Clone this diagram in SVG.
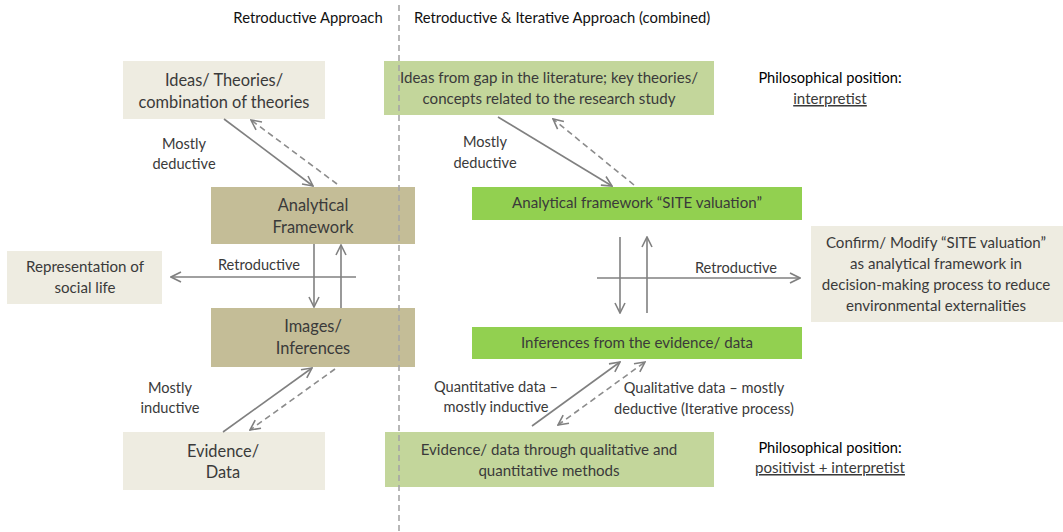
<svg xmlns="http://www.w3.org/2000/svg" width="1063" height="532" viewBox="0 0 1063 532">
  <style>
    text { font-family: Lato, "Liberation Sans", sans-serif; fill: #3a3a3a; text-anchor: middle; }
    .hdr { font-size: 14.8px; fill: #111; }
    .big { font-size: 16.4px; }
    .mid { font-size: 15.1px; }
    .lbl { font-size: 14.6px; }
    .phil { font-size: 14.6px; fill: #000; }
    .ul { text-decoration: underline; }
    .beige { fill: #EEECE1; }
    .tan { fill: #C4BD97; }
    .olive { fill: #C3D69B; }
    .lime { fill: #92D050; }
    .solid { stroke: #808080; stroke-width: 1.6; fill: none; }
    .dash { stroke: #8c8c8c; stroke-width: 1.6; fill: none; stroke-dasharray: 6 4; }
  </style>
  <defs>
    <marker id="head" viewBox="0 0 12 12" refX="11" refY="6" markerWidth="12" markerHeight="12" markerUnits="userSpaceOnUse" orient="auto-start-reverse">
      <path d="M1,1 L11,6 L1,11" fill="none" stroke="#808080" stroke-width="1.6"/>
    </marker>
  </defs>
  <rect width="1063" height="532" fill="#ffffff"/>

  <!-- headings -->
  <text class="hdr" x="308" y="23">Retroductive Approach</text>
  <text class="hdr" x="414" y="23" style="text-anchor:start">Retroductive &amp; Iterative Approach (combined)</text>

  <!-- left: retroductive approach -->
  <g id="ideas">
    <rect class="beige" x="123" y="61" width="202" height="58"/>
    <text class="big" x="224" y="86">Ideas/ Theories/</text>
    <text class="big" x="224" y="108">combination of theories</text>
  </g>
  <g id="analytical-framework">
    <rect class="tan" x="211" y="187" width="204" height="57"/>
    <text class="big" x="313" y="211">Analytical</text>
    <text class="big" x="313" y="233">Framework</text>
  </g>
  <g id="representation">
    <rect class="beige" x="7" y="251" width="155" height="53"/>
    <text class="mid" x="85" y="272">Representation of</text>
    <text class="mid" x="85" y="293">social life</text>
  </g>
  <g id="images">
    <rect class="tan" x="211" y="308" width="204" height="59"/>
    <text class="big" x="313" y="332">Images/</text>
    <text class="big" x="313" y="354">Inferences</text>
  </g>
  <g id="evidence">
    <rect class="beige" x="123" y="432" width="202" height="58"/>
    <text class="big" x="223" y="457">Evidence/</text>
    <text class="big" x="223" y="478">Data</text>
  </g>

  <!-- right: retroductive and iterative approach -->
  <g id="ideas-gap">
    <rect class="olive" x="384" y="61" width="330" height="54"/>
    <text class="mid" x="549" y="83">Ideas from gap in the literature; key theories/</text>
    <text class="mid" x="549" y="104">concepts related to the research study</text>
  </g>
  <g id="site-framework">
    <rect class="lime" x="472" y="187" width="330" height="33"/>
    <text class="mid" x="637" y="208">Analytical framework “SITE valuation”</text>
  </g>
  <g id="confirm">
    <rect class="beige" x="811" y="226" width="252" height="96"/>
    <text class="mid" x="936" y="248">Confirm/ Modify “SITE valuation”</text>
    <text class="mid" x="936" y="269">as analytical framework in</text>
    <text class="mid" x="936" y="290">decision-making process to reduce</text>
    <text class="mid" x="936" y="311">environmental externalities</text>
  </g>
  <g id="inferences">
    <rect class="lime" x="472" y="327" width="330" height="32"/>
    <text class="mid" x="637" y="348">Inferences from the evidence/ data</text>
  </g>
  <g id="evidence-methods">
    <rect class="olive" x="385" y="432" width="329" height="55"/>
    <text class="mid" x="549" y="455">Evidence/ data through qualitative and</text>
    <text class="mid" x="549" y="476">quantitative methods</text>
  </g>
  <g id="position-top">
    <text class="phil" x="830" y="83">Philosophical position:</text>
    <text class="mid ul" x="830" y="104">interpretist</text>
  </g>
  <g id="position-bottom">
    <text class="phil" x="830" y="453">Philosophical position:</text>
    <text class="mid ul" x="830" y="473">positivist + interpretist</text>
  </g>

  <!-- divider between the two approaches -->
  <line x1="399" y1="5" x2="399" y2="532" stroke="#a6a6a6" stroke-width="1.6" stroke-dasharray="6 4"/>

  <!-- connectors -->
  <g id="connectors">
    <!-- left column -->
    <line class="solid" x1="224" y1="119" x2="313" y2="186" marker-end="url(#head)"/>
    <line class="dash" x1="337" y1="184" x2="251" y2="120" marker-end="url(#head)"/>
    <line class="solid" x1="314" y1="244" x2="314" y2="307" marker-end="url(#head)"/>
    <line class="solid" x1="341" y1="308" x2="341" y2="245" marker-end="url(#head)"/>
    <line class="solid" x1="356" y1="277" x2="171" y2="277" marker-end="url(#head)"/>
    <line class="solid" x1="223" y1="432" x2="312" y2="368" marker-end="url(#head)"/>
    <line class="dash" x1="335" y1="369" x2="250" y2="430" marker-end="url(#head)"/>

    <!-- right column -->
    <line class="solid" x1="498" y1="117" x2="612" y2="186" marker-end="url(#head)"/>
    <line class="dash" x1="634" y1="185" x2="553" y2="119" marker-end="url(#head)"/>
    <line class="solid" x1="620" y1="237" x2="620" y2="313" marker-end="url(#head)"/>
    <line class="solid" x1="647" y1="313" x2="647" y2="237" marker-end="url(#head)"/>
    <line class="solid" x1="597" y1="278" x2="800" y2="278" marker-end="url(#head)"/>
    <line class="solid" x1="532" y1="426" x2="620" y2="362" marker-end="url(#head)"/>
    <line class="dash" x1="558" y1="425" x2="645" y2="362" marker-start="url(#head)" marker-end="url(#head)"/>

    <!-- connector labels -->
    <text class="lbl" x="184" y="149">Mostly</text>
    <text class="lbl" x="184" y="169">deductive</text>
    <text class="lbl" x="259" y="270">Retroductive</text>
    <text class="lbl" x="170" y="393">Mostly</text>
    <text class="lbl" x="170" y="413">inductive</text>
    <text class="lbl" x="485" y="147">Mostly</text>
    <text class="lbl" x="485" y="168">deductive</text>
    <text class="lbl" x="736" y="273">Retroductive</text>
    <text class="lbl" x="496" y="392">Quantitative data –</text>
    <text class="lbl" x="496" y="412">mostly inductive</text>
    <text class="lbl" x="704" y="393">Qualitative data – mostly</text>
    <text class="lbl" x="704" y="414">deductive (Iterative process)</text>
  </g>
</svg>
